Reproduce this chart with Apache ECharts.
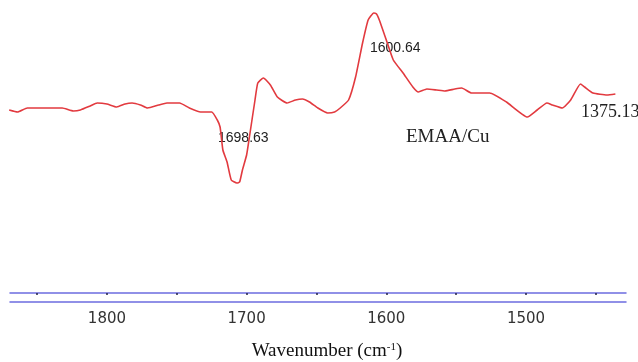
<!DOCTYPE html>
<html>
<head>
<meta charset="utf-8">
<script src="https://cdn.jsdelivr.net/npm/echarts@6/dist/echarts.min.js"></script>
<style>
  html, body { margin: 0; padding: 0; background: #fff; }
  #chart { width: 638px; height: 362px; }
</style>
</head>
<body>
<div id="chart"></div>
<script>
// FTIR difference spectrum, EMAA/Cu
const wavenumbers = [1870, 1864, 1857, 1844, 1832, 1824, 1819, 1812, 1807, 1800,
  1793, 1787, 1782, 1776, 1771, 1763, 1757, 1748, 1741, 1733,
  1725, 1721, 1719, 1717, 1714, 1711, 1707, 1705, 1703, 1700,
  1698, 1694, 1692, 1688, 1683, 1678, 1671, 1665, 1660, 1655,
  1649, 1642, 1637, 1633, 1627, 1622, 1617, 1613, 1609, 1607,
  1605, 1600, 1595, 1588, 1581, 1577, 1571, 1564, 1558, 1551,
  1546, 1539, 1526, 1514, 1499, 1492, 1485, 1481, 1474, 1468,
  1461, 1458, 1452, 1442, 1436];
const absorbance = [0.00, -0.02, 0.02, 0.02, 0.02, -0.01, 0.00, 0.04, 0.07, 0.06,
  0.03, 0.06, 0.07, 0.05, 0.02, 0.05, 0.07, 0.07, 0.02, -0.02,
  -0.02, -0.10, -0.17, -0.40, -0.52, -0.70, -0.73, -0.72, -0.60, -0.45,
  -0.27, 0.10, 0.27, 0.32, 0.25, 0.13, 0.07, 0.10, 0.11, 0.08,
  0.02, -0.03, -0.02, 0.02, 0.10, 0.33, 0.67, 0.90, 0.97, 0.96,
  0.90, 0.70, 0.50, 0.37, 0.23, 0.18, 0.21, 0.20, 0.19, 0.21,
  0.22, 0.17, 0.17, 0.08, -0.07, 0.00, 0.07, 0.05, 0.02, 0.10,
  0.26, 0.23, 0.17, 0.15, 0.16];
const tickValues = [1450, 1500, 1550, 1600, 1650, 1700, 1750, 1800, 1850];
const labelValues = [1500, 1600, 1700, 1800];

const xMin = 1428.4, xMax = 1869.4;
const blue = '#6c6ce0';

const myChart = echarts.init(document.getElementById('chart'));

const option = {
    animation: false,
    backgroundColor: '#fff',
    grid: {left: 10, right: 12, top: 0, bottom: 69, outerBoundsMode: 'none'},
    xAxis: [{
        type: 'value',
        inverse: true,
        min: xMin,
        max: xMax,
        position: 'bottom',
        splitLine: {show: false},
        axisLine: {onZero: false, lineStyle: {color: blue, width: 1.5}},
        axisTick: {
            show: true,
            length: 2,
            customValues: tickValues,
            lineStyle: {color: '#222244', width: 1.5},
        },
        axisLabel: {
            customValues: labelValues,
            formatter: (v) => String(v),
            margin: 19,
            fontFamily: 'DejaVu Sans',
            fontSize: 15,
            color: '#333',
        },
        name: '{a|Wavenumber (cm}{s|-1}{a|)}',
        nameLocation: 'middle',
        nameGap: 49,
        nameTextStyle: {
            padding: [0, 0, 0, 18],
            rich: {
                a: {fontFamily: 'Liberation Serif', fontSize: 19, color: '#111'},
                s: {fontFamily: 'Liberation Serif', fontSize: 11, color: '#111', verticalAlign: 'top'},
            },
        },
    }, {
        // second (lower) rule line under the axis
        type: 'value',
        inverse: true,
        min: xMin,
        max: xMax,
        position: 'bottom',
        offset: 9,
        splitLine: {show: false},
        axisLine: {onZero: false, lineStyle: {color: blue, width: 1.5}},
        axisTick: {show: false},
        axisLabel: {show: false},
    }],
    yAxis: {
        type: 'value',
        min: -1.83,
        max: 1.10,
        show: false,
        splitLine: {show: false},
    },
    series: [{
        type: 'line',
        xAxisIndex: 0,
        data: wavenumbers.map((w, i) => [w, absorbance[i]]),
        smooth: 0.15,
        showSymbol: false,
        lineStyle: {color: '#e23a3f', width: 1.6},
    }],
    graphic: [
        {type: 'text', left: 218, top: 131, style: {text: '1698.63', font: '14px "Liberation Sans"', fill: '#222'}},
        {type: 'text', left: 370, top: 41, style: {text: '1600.64', font: '14px "Liberation Sans"', fill: '#222'}},
        {type: 'text', left: 581, top: 103, style: {text: '1375.13', font: '18px "Liberation Serif"', fill: '#222'}},
        {type: 'text', left: 406, top: 128, style: {text: 'EMAA/Cu', font: '19px "Liberation Serif"', fill: '#222'}},
    ],
};
myChart.setOption(option);
window.addEventListener('resize', myChart.resize);
</script>
</body>
</html>
